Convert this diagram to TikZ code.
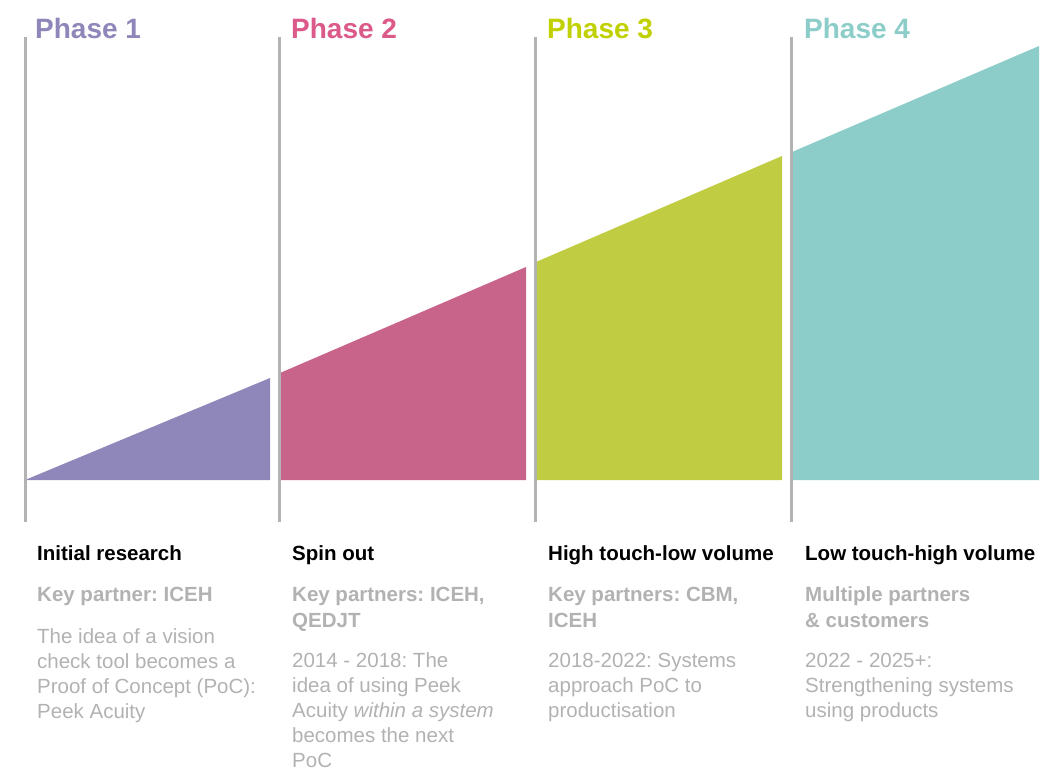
\documentclass[tikz,border=0pt]{standalone}
\usepackage{fontspec}
\setmainfont{Liberation Sans}
\usetikzlibrary{positioning}
\frenchspacing
\definecolor{phaseA}{HTML}{8F87B9}
\definecolor{phaseB}{HTML}{C8638A}
\definecolor{phaseBtxt}{HTML}{DC5A8A}
\definecolor{phaseC}{HTML}{C0CC42}
\definecolor{phaseCtxt}{HTML}{C0D000}
\definecolor{phaseD}{HTML}{8CCDC9}
\definecolor{rulegray}{HTML}{B3B3B3}
\definecolor{softgray}{HTML}{B2B2B2}

\begin{document}
\begin{tikzpicture}[x=1pt,y=-1pt,
    divider/.style={draw=rulegray,line width=3pt},
    phasehead/.style={anchor=base west,inner sep=0pt,font=\fontsize{28}{30}\selectfont\bfseries},
    stagetitle/.style={anchor=base west,inner sep=0pt,font=\fontsize{20.5}{25}\selectfont\bfseries},
    partners/.style={anchor=base west,inner sep=0pt,align=left,text=softgray,font=\fontsize{20.5}{26}\selectfont\bfseries},
    story/.style={anchor=base west,inner sep=0pt,align=left,text=softgray,font=\fontsize{20.5}{25}\selectfont}]
  \useasboundingbox (0,0) rectangle (1061,771);

  \fill[phaseA] (25,480) -- (270,378) -- (270,480) -- cycle;            %Phase 1 wedge
  \fill[phaseB] (280,373) -- (526,267) -- (526,480) -- (280,480) -- cycle; %Phase 2 block
  \fill[phaseC] (536,262) -- (782,156) -- (782,480) -- (536,480) -- cycle; %Phase 3 block
  \fill[phaseD] (792,152) -- (1039,46) -- (1039,480) -- (792,480) -- cycle; %Phase 4 block

  \draw[divider] (25,37) -- (25,522) ;    %Phase 1 divider
  \draw[divider] (279,37) -- (279,522) ;  %Phase 2 divider
  \draw[divider] (535,37) -- (535,522) ;  %Phase 3 divider
  \draw[divider] (791,37) -- (791,522) ;  %Phase 4 divider

  \node[phasehead,text=phaseA] (headA) at (35,38) {Phase 1};
  \node[phasehead,text=phaseBtxt] (headB) at (291,38) {Phase 2};
  \node[phasehead,text=phaseCtxt] (headC) at (547,38) {Phase 3};
  \node[phasehead,text=phaseD] (headD) at (804,38) {Phase 4};

  % Phase 1 text (multi-line nodes sit on their last baseline)
  \node[stagetitle] (titleA) at (37,560) {Initial research};
  \node[partners] (partA) at (37,601) {Key partner: ICEH};
  \node[story] (storyA) at (37,718) {The idea of a vision\\check tool becomes a\\Proof of Concept (PoC):\\Peek Acuity};

  % Phase 2 text
  \node[stagetitle] (titleB) at (292,560) {Spin out};
  \node[partners] (partB) at (292,627) {Key partners: ICEH,\\QEDJT};
  \node[story] (storyB) at (292,767) {2014 - 2018: The\\idea of using Peek\\Acuity \textit{within a system}\\becomes the next\\PoC};

  % Phase 3 text
  \node[stagetitle] (titleC) at (548,560) {High touch-low volume};
  \node[partners] (partC) at (548,627) {Key partners: CBM,\\ICEH};
  \node[story] (storyC) at (548,717) {2018-2022: Systems\\approach PoC to\\productisation};

  % Phase 4 text
  \node[stagetitle] (titleD) at (805,560) {Low touch-high volume};
  \node[partners] (partD) at (805,627) {Multiple partners\\\& customers};
  \node[story] (storyD) at (805,717) {2022 - 2025+:\\Strengthening systems\\using products};
\end{tikzpicture}
\end{document}
